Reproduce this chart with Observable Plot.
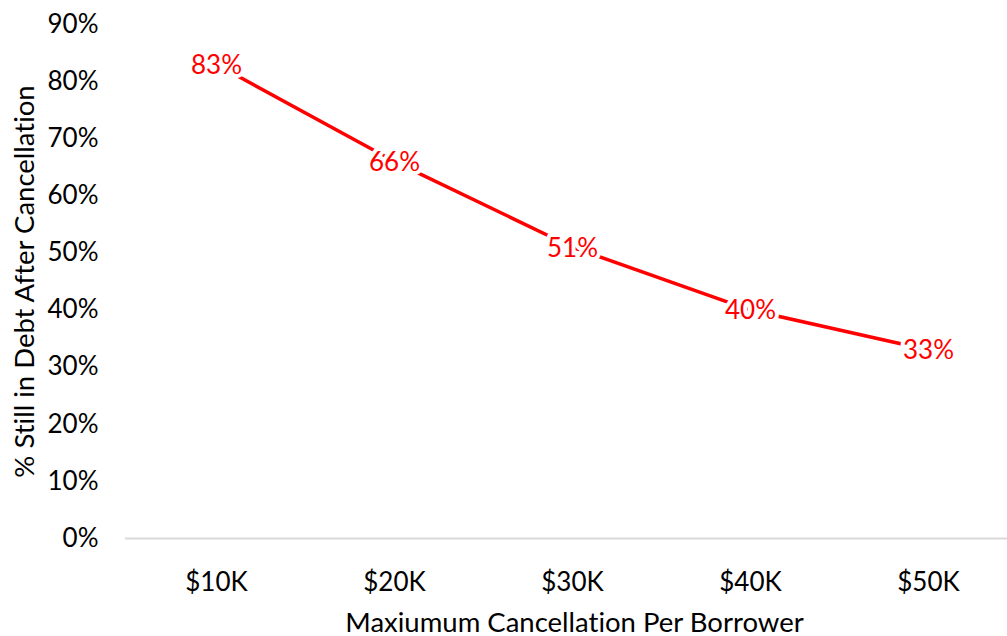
<!DOCTYPE html>
<html>
<head>
<meta charset="utf-8">
<script src="https://cdn.jsdelivr.net/npm/d3@7"></script>
<script src="https://cdn.jsdelivr.net/npm/@observablehq/plot@0.6"></script>
<style>
  html, body { margin: 0; padding: 0; background: #fff; }
  #chart svg { display: block; font-variant-ligatures: none; }
  #chart svg text { font-variant-ligatures: none; font-feature-settings: "liga" 0, "dlig" 0; }
</style>
</head>
<body>
<div id="chart"></div>
<script>
const categories = ["$10K", "$20K", "$30K", "$40K", "$50K"];
const stillInDebt = [0.83, 0.66, 0.51, 0.40, 0.33];
const yTicks = [0, 0.1, 0.2, 0.3, 0.4, 0.5, 0.6, 0.7, 0.8, 0.9];
const xTitle = "Maxiumum Cancellation Per Borrower";
const yTitle = "% Still in Debt After Cancellation";

const data = categories.map((c, i) => ({cat: c, v: stillInDebt[i]}));
const FONT = "Lato, 'Open Sans', sans-serif";

const chart = Plot.plot({
  width: 1007,
  height: 636,
  marginTop: 24,
  marginBottom: 98,
  marginLeft: 125,
  marginRight: 0,
  style: {fontFamily: FONT, fontSize: "26px", color: "#000", background: "#fff"},
  x: {type: "point", domain: categories, range: [214.5, 929.5], padding: 0},
  y: {domain: [0, 0.9]},
  marks: [
    Plot.ruleY([0], {stroke: "#d9d9d9", strokeWidth: 2}),
    Plot.axisX({tickSize: 0, tickPadding: 34, label: null, fontSize: 26}),
    Plot.text([xTitle], {frameAnchor: "bottom", lineAnchor: "bottom", dy: 93, dx: 8, fontSize: 27.5, fill: "#000"}),
    Plot.axisY({ticks: yTicks, tickSize: 0, tickPadding: 27, tickFormat: d => Math.round(d * 100) + "%", label: null, fontSize: 26}),
    Plot.axisY({ticks: [], tickSize: 0, label: yTitle, labelAnchor: "center", labelArrow: "none", labelOffset: 111, fontSize: 27.5}),
    Plot.lineY(data, {x: "cat", y: "v", stroke: "#ff0000", strokeWidth: 3.5}),
    Plot.text(data, {x: "cat", y: "v", dy: 1, text: d => Math.round(d.v * 100) + "%", fill: "#ff0000", stroke: "white", strokeWidth: 8, fontSize: 26})
  ]
});
document.getElementById("chart").appendChild(chart);
</script>
</body>
</html>
